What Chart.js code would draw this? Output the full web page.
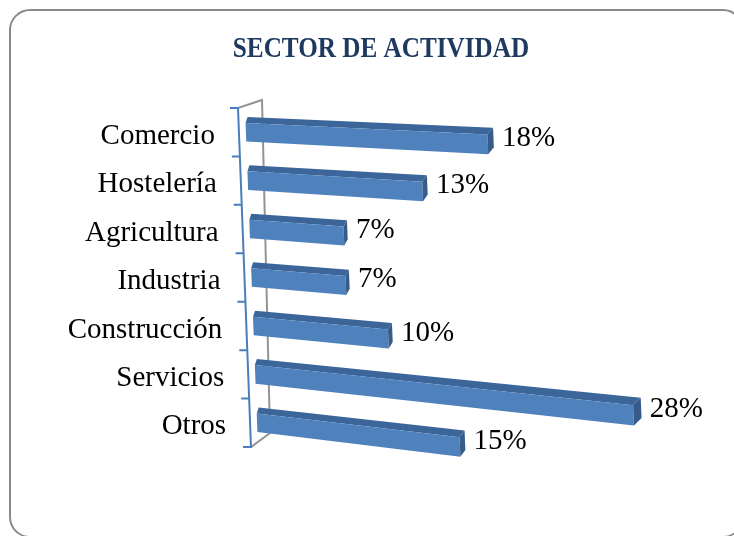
<!DOCTYPE html>
<html>
<head>
<meta charset="utf-8">
<script src="https://cdn.jsdelivr.net/npm/chart.js@4"></script>
<style>
  html, body { margin: 0; padding: 0; background: #fff; overflow: hidden; }
  #frame {
    position: absolute; left: 9px; top: 9px; width: 735px; height: 529px;
    box-sizing: border-box; border: 2px solid #8a8a8a; border-radius: 21px;
  }
  #wrap { position: absolute; left: 0; top: 0; width: 734px; height: 536px; }
</style>
</head>
<body>
<div id="frame"></div>
<div id="wrap"><canvas id="chart"></canvas></div>
<script>
const chartTitle = "SECTOR DE ACTIVIDAD";
const categories = ["Comercio", "Hostelería", "Agricultura", "Industria", "Construcción", "Servicios", "Otros"];
const percentages = [18, 13, 7, 7, 10, 28, 15];
const valueMax = 30;

// where the flat plot area lands on screen (front plane of the bars)
// order: top-left, top-right, bottom-right, bottom-left
const quad = [[245, 108], [648, 126], [664, 498], [258, 447]];

// bilinear map of the plot area onto the quad -> tilted 3D look
function makeProjector(area) {
  const [p0, p1, p2, p3] = quad;
  return (px, py) => {
    const s = (px - area.left) / (area.right - area.left);
    const t = (py - area.top) / (area.bottom - area.top);
    const k0 = (1 - s) * (1 - t), k1 = s * (1 - t), k2 = s * t, k3 = (1 - s) * t;
    return [
      k0 * p0[0] + k1 * p1[0] + k2 * p2[0] + k3 * p3[0],
      k0 * p0[1] + k1 * p1[1] + k2 * p2[1] + k3 * p3[1]
    ];
  };
}

function poly(ctx, pts, fill) {
  ctx.beginPath();
  ctx.moveTo(pts[0][0], pts[0][1]);
  for (let i = 1; i < pts.length; i++) ctx.lineTo(pts[i][0], pts[i][1]);
  ctx.closePath();
  ctx.fillStyle = fill;
  ctx.fill();
}

const bars3d = {
  id: "bars3d",
  afterDatasetsDraw(chart) {
    const ctx = chart.ctx;
    const area = chart.chartArea;
    const P = makeProjector(area);
    const n = categories.length;
    const add = (p, v) => [p[0] + v[0], p[1] + v[1]];
    // depth of the bars, a bit deeper toward the right
    const depth = px => {
      const u = (px - area.left) / (area.right - area.left);
      return [2 + 6 * u, -6 - 1.5 * u];
    };

    ctx.save();
    ctx.lineCap = "square";

    // floor / back wall edge (gray) and category axis (blue)
    const a0 = add(P(area.left, area.top), [-7, 0]);
    const a1 = add(P(area.left, area.bottom), [-7, 0]);
    ctx.strokeStyle = "#949494";
    ctx.lineWidth = 2;
    ctx.beginPath();
    ctx.moveTo(a0[0], a0[1]);
    ctx.lineTo(a0[0] + 24, a0[1] - 8);
    ctx.lineTo(a1[0] + 19, a1[1] - 14);
    ctx.lineTo(a1[0], a1[1]);
    ctx.stroke();

    ctx.strokeStyle = "#4a7ebb";
    ctx.beginPath();
    ctx.moveTo(a0[0], a0[1]);
    ctx.lineTo(a1[0], a1[1]);
    for (let i = 0; i <= n; i++) {
      const q = add(P(area.left, area.top + i * (area.bottom - area.top) / n), [-7, 0]);
      ctx.moveTo(q[0], q[1]);
      ctx.lineTo(q[0] - 7, q[1]);
    }
    ctx.stroke();

    // bars
    const meta = chart.getDatasetMeta(0);
    ctx.font = '29px "Liberation Serif", "Times New Roman", serif';
    ctx.textBaseline = "middle";
    meta.data.forEach((el, i) => {
      const { x, y, base, height } = el.getProps(["x", "y", "base", "height"], true);
      const tl = P(base, y - height / 2), tr = P(x, y - height / 2);
      const br = P(x, y + height / 2), bl = P(base, y + height / 2);
      const tl2 = add(tl, depth(base)), tr2 = add(tr, depth(x)), br2 = add(br, depth(x));

      poly(ctx, [tl, tr, tr2, tl2], "#3c6599");
      poly(ctx, [tl, tr, br, bl], "#4f81bd");
      poly(ctx, [tr, tr2, br2, br], "#375c8a");

      // value label
      ctx.fillStyle = "#000";
      ctx.textAlign = "left";
      ctx.fillText(percentages[i] + "%", tr2[0] + 9, (tr[1] + br[1]) / 2 - 6);

      // category label
      const lp = P(area.left, y);
      ctx.textAlign = "right";
      ctx.fillText(categories[i], lp[0] - 31, lp[1] + 4);
    });

    // title (condensed serif look)
    ctx.fillStyle = "#1f3a60";
    ctx.font = 'bold 30px "Liberation Serif", "Times New Roman", serif';
    ctx.textAlign = "center";
    ctx.textBaseline = "alphabetic";
    ctx.translate(381, 57);
    ctx.scale(0.84, 1);
    ctx.fillText(chartTitle, 0, 0);
    ctx.restore();
  }
};

new Chart(document.getElementById("chart"), {
  type: "bar",
  data: {
    labels: categories,
    datasets: [{
      data: percentages,
      backgroundColor: "rgba(0,0,0,0)",
      borderWidth: 0,
      barPercentage: 0.48,
      categoryPercentage: 0.8
    }]
  },
  options: {
    indexAxis: "y",
    responsive: true,
    maintainAspectRatio: false,
    animation: false,
    devicePixelRatio: 1,
    layout: { padding: { left: 245, top: 108, right: 68, bottom: 89 } },
    scales: {
      x: { display: false, min: 0, max: valueMax },
      y: { display: false }
    },
    plugins: {
      legend: { display: false },
      tooltip: { enabled: false },
      title: { display: false }
    }
  },
  plugins: [bars3d]
});
</script>
</body>
</html>
